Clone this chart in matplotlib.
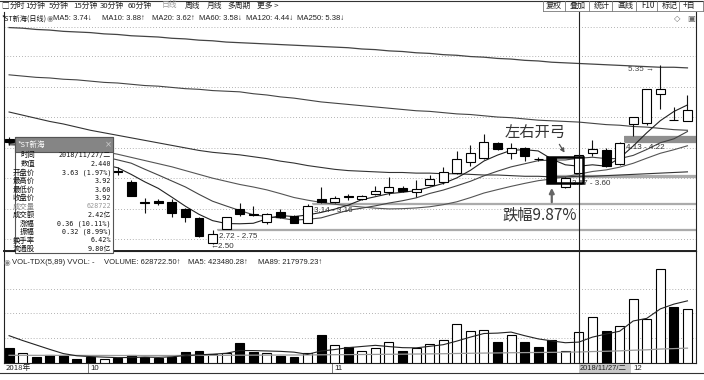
import matplotlib
matplotlib.use("Agg")
import matplotlib.pyplot as plt
from matplotlib.patches import Rectangle

plt.rcParams['font.family'] = ['Noto Sans CJK SC', 'DejaVu Sans']
CJK = ['Noto Sans CJK SC', 'DejaVu Sans']
LAT = ['Liberation Sans', 'DejaVu Sans', 'Noto Sans CJK SC']
MONO = ['DejaVu Sans Mono', 'Noto Sans CJK SC']

# daily candles, 2018-09-20 .. 2018-12-07 (index 42 = 2018/11/27)
opens = [4.17, 4.05, 4.06, 3.95, 3.88, 3.80, 3.76, 3.66, 3.66, 3.49,
         3.17, 3.18, 3.17, 3.06, 2.92, 2.52, 2.75, 3.06, 2.98, 2.85,
         3.01, 2.95, 2.84, 3.22, 3.17, 3.26, 3.22, 3.30, 3.33, 3.39,
         3.33, 3.44, 3.49, 3.63, 3.81, 3.87, 4.11, 3.95, 4.03, 3.86,
         3.87, 3.41, 3.63, 3.95, 4.00, 3.78, 4.41, 4.43, 4.89, 4.48, 4.46]
highs = [4.20, 4.12, 4.08, 3.98, 3.90, 3.83, 3.78, 3.72, 3.72, 3.52,
         3.23, 3.22, 3.22, 3.08, 2.93, 2.72, 2.93, 3.16, 3.11, 2.99,
         3.06, 2.96, 3.14, 3.41, 3.26, 3.30, 3.29, 3.43, 3.57, 3.42,
         3.52, 3.60, 3.73, 3.98, 4.08, 4.25, 4.13, 4.11, 4.05, 3.88,
         3.87, 3.57, 3.92, 4.16, 4.03, 4.13, 4.52, 4.97, 5.35, 4.68, 4.87]
lows = [4.08, 4.00, 3.92, 3.85, 3.78, 3.72, 3.66, 3.64, 3.60, 3.27,
        3.00, 3.13, 2.94, 2.85, 2.62, 2.50, 2.75, 2.95, 2.95, 2.82,
        2.92, 2.84, 2.84, 3.16, 3.16, 3.21, 3.20, 3.28, 3.28, 3.33,
        3.25, 3.42, 3.46, 3.62, 3.74, 3.86, 3.99, 3.85, 3.82, 3.82,
        3.47, 3.40, 3.60, 3.90, 3.73, 3.76, 4.22, 4.40, 4.65, 4.47, 4.46]
closes = [4.12, 4.08, 3.95, 3.88, 3.80, 3.75, 3.68, 3.70, 3.65, 3.27,
          3.16, 3.16, 3.00, 2.93, 2.63, 2.66, 2.93, 2.98, 2.97, 2.98,
          2.93, 2.84, 3.11, 3.17, 3.24, 3.25, 3.27, 3.35, 3.41, 3.35,
          3.38, 3.54, 3.65, 3.85, 3.95, 4.12, 4.01, 4.03, 3.90, 3.85,
          3.47, 3.56, 3.92, 4.01, 3.74, 4.11, 4.52, 4.97, 4.97, 4.47, 4.63]

ma5 = [4.10, 4.08, 4.05, 4.01, 3.966, 3.892, 3.812, 3.762, 3.716, 3.61,
       3.492, 3.388, 3.248, 3.104, 2.976, 2.876, 2.83, 2.826, 2.834, 2.904,
       2.958, 2.94, 2.966, 3.006, 3.058, 3.122, 3.208, 3.256, 3.304, 3.326,
       3.352, 3.406, 3.466, 3.554, 3.674, 3.822, 3.916, 3.992, 4.002, 3.982,
       3.852, 3.762, 3.74, 3.762, 3.74, 3.868, 4.06, 4.27, 4.462, 4.608, 4.712]
ma10 = [4.15, 4.12, 4.09, 4.06, 4.02, 3.99, 3.94, 3.89, 3.84, 3.788,
        3.692, 3.60, 3.505, 3.41, 3.293, 3.184, 3.109, 3.037, 2.969, 2.94,
        2.917, 2.885, 2.896, 2.92, 2.981, 3.04, 3.074, 3.111, 3.155, 3.192,
        3.237, 3.307, 3.361, 3.429, 3.50, 3.587, 3.661, 3.729, 3.778, 3.828,
        3.837, 3.839, 3.866, 3.882, 3.861, 3.86, 3.911, 4.005, 4.112, 4.174, 4.29]
ma20 = [4.08, 4.07, 4.06, 4.05, 4.04, 4.02, 4.00, 3.97, 3.93, 3.88,
        3.83, 3.78, 3.73, 3.67, 3.61, 3.55, 3.50, 3.45, 3.41, 3.364,
        3.305, 3.243, 3.201, 3.165, 3.137, 3.112, 3.092, 3.074, 3.062, 3.066,
        3.077, 3.096, 3.129, 3.175, 3.241, 3.314, 3.368, 3.42, 3.467, 3.51,
        3.537, 3.573, 3.614, 3.656, 3.681, 3.724, 3.786, 3.867, 3.945, 4.001, 4.064]
ma60 = [4.60, 4.55, 4.50, 4.45, 4.41, 4.36, 4.31, 4.27, 4.23, 4.19,
        4.15, 4.11, 4.07, 4.03, 3.99, 3.96, 3.94, 3.92, 3.89, 3.86,
        3.82, 3.79, 3.75, 3.72, 3.69, 3.67, 3.66, 3.65, 3.64, 3.64,
        3.63, 3.63, 3.62, 3.62, 3.61, 3.60, 3.60, 3.59, 3.58, 3.58,
        3.57, 3.57, 3.58, 3.58, 3.59, 3.60, 3.61, 3.62, 3.63, 3.64, 3.65]
ma120 = [5.19, 5.17, 5.15, 5.14, 5.12, 5.11, 5.09, 5.07, 5.06, 5.04,
         5.02, 5.01, 4.99, 4.97, 4.96, 4.94, 4.93, 4.92, 4.89, 4.87,
         4.84, 4.82, 4.79, 4.76, 4.74, 4.72, 4.70, 4.68, 4.66, 4.64,
         4.62, 4.61, 4.59, 4.57, 4.56, 4.54, 4.52, 4.51, 4.49, 4.47,
         4.46, 4.45, 4.44, 4.42, 4.40, 4.39, 4.37, 4.36, 4.34, 4.32, 4.31]
ma250 = [5.94, 5.93, 5.91, 5.90, 5.88, 5.87, 5.86, 5.84, 5.83, 5.81,
         5.80, 5.79, 5.77, 5.76, 5.74, 5.73, 5.71, 5.70, 5.69, 5.68,
         5.67, 5.66, 5.65, 5.64, 5.63, 5.62, 5.60, 5.59, 5.57, 5.56,
         5.54, 5.53, 5.51, 5.50, 5.48, 5.47, 5.45, 5.44, 5.42, 5.41,
         5.39, 5.38, 5.37, 5.36, 5.35, 5.34, 5.33, 5.32, 5.31, 5.31, 5.30]

# volume in thousand shares
volumes = [304, 203, 122, 148, 148, 81, 122, 67, 95, 162,
           122, 95, 122, 223, 243, 176, 189, 406, 217, 203,
           135, 108, 189, 554, 351, 324, 229, 304, 426, 243,
           304, 385, 466, 791, 649, 669, 426, 568, 426, 324,
           466, 243, 629, 933, 635, 750, 1284, 892, 1892, 1121, 1081]
vol_ma5 = [548, 450, 360, 270, 185, 140, 124, 113, 103, 105,
           114, 108, 119, 145, 161, 172, 191, 247, 246, 238,
           230, 214, 170, 238, 267, 305, 329, 352, 327, 305,
           301, 332, 365, 438, 519, 592, 600, 621, 548, 483,
           442, 405, 418, 519, 581, 638, 846, 899, 1091, 1188, 1254]
vol_ma89 = [150, 150, 149, 149, 148, 148, 147, 147, 146, 146,
            146, 146, 146, 147, 148, 149, 150, 152, 153, 154,
            155, 156, 157, 160, 162, 164, 166, 168, 171, 173,
            176, 179, 182, 187, 191, 195, 198, 202, 205, 207,
            210, 212, 218, 226, 232, 240, 253, 261, 277, 286, 295]

# gaps: start index, low, high
gap_start = [15.3, 22.3, 39.7, 45.3]
gap_low = [2.72, 3.14, 3.57, 4.13]
gap_high = [2.75, 3.16, 3.60, 4.22]
gap_label_x = [15.45, 22.45, 41.5, 45.45]

grid_prices = [5.95, 5.49, 5.00, 4.52, 4.03, 3.55, 3.06, 2.58]
vol_grid = [500, 1000, 1500]
month_start = [6, 24, 46]
month_names = ['10', '11', '12']
sel = 42

info_labels = ['时间', '数值', '开盘价', '最高价', '最低价', '收盘价', '成交量', '成交额',
               '涨幅', '振幅', '换手率', '流通股']
info_values = ['2018/11/27/二', '2.440', '3.63 (1.97%)', '3.92', '3.60', '3.92', '628722',
               '2.42亿', '0.36 (10.11%)', '0.32 (8.99%)', '6.42%', '9.80亿']

n = len(closes)
idx = list(range(n))
W, H = 704, 380
fig = plt.figure(figsize=(W / 100, H / 100), dpi=100)


def box(x0, y0, x1, y1):
    return [x0 / W, 1 - y1 / H, (x1 - x0) / W, (y1 - y0) / H]


ax = fig.add_axes(box(3.5, 12, 696, 251))
axv = fig.add_axes(box(3.5, 251, 696, 362.7))
ov = fig.add_axes([0, 0, 1, 1], zorder=10)
ov.set_xlim(0, W)
ov.set_ylim(H, 0)
ov.axis('off')

for a in (ax, axv):
    a.set_xlim(-0.41, 50.63)
    a.set_xticks([])
    a.set_yticks([])
    for s in a.spines.values():
        s.set_color('#222')
        s.set_linewidth(0.8)
ax.spines['bottom'].set_linewidth(1.4)
ax.spines['top'].set_visible(False)
ax.set_ylim(2.394, 6.187)
axv.set_ylim(0, 2265)

for p in grid_prices:
    ax.axhline(p, color='#9a9a9a', lw=0.6, ls=(0, (1, 2.5)), zorder=0)
for v in vol_grid:
    axv.axhline(v, color='#9a9a9a', lw=0.6, ls=(0, (1, 2.5)), zorder=0)

# gap bands
for s, lo, hi, lx in zip(gap_start, gap_low, gap_high, gap_label_x):
    c = '#8f8f8f' if hi - lo > 0.05 else '#ababab'
    ax.fill_between([s, 50.63], lo, hi, color=c, lw=0, zorder=1)
    ax.hlines([lo, hi], s, 50.63, color=c, lw=0.9, zorder=1)
    ax.text(lx, lo - 0.1, f'{lo:.2f} - {hi:.2f}', fontsize=5.8, color='#333',
            va='center', family=LAT, zorder=6)

# moving averages
ax.plot(idx, ma250, color='#444', lw=0.9, zorder=2)
ax.plot(idx, ma120, color='#444', lw=0.8, zorder=2)
ax.plot(idx, ma60, color='#333', lw=0.8, zorder=2)
ax.plot(idx, ma20, color='#555', lw=0.8, zorder=2)
ax.plot(idx, ma10, color='#444', lw=0.8, zorder=2)
ax.plot(idx, ma5, color='#222', lw=0.8, zorder=2)

# candles
fill = ['white' if c > o else 'black' for o, c in zip(opens, closes)]
body_lo = [min(o, c) for o, c in zip(opens, closes)]
body_h = [max(abs(c - o), 0.006) for o, c in zip(opens, closes)]
ax.vlines(idx, lows, highs, color='#111', lw=0.8, zorder=3)
ax.bar(idx, body_h, bottom=body_lo, width=0.66, color=fill, edgecolor='black',
       linewidth=0.8, zorder=4)

# volume
axv.bar(idx, volumes, width=0.66, color=fill, edgecolor='black', linewidth=0.8, zorder=3)
axv.plot(idx, vol_ma89, color='#9a9a9a', lw=0.9, zorder=4)
axv.plot(idx, vol_ma5, color='#222', lw=0.8, zorder=4)

# crosshair
ax.axvline(sel, color='#222', lw=0.8, zorder=5)
axv.axvline(sel, color='#222', lw=0.8, zorder=5)

# pattern annotations
ax.add_patch(Rectangle((39.65, lows[40]), 2.65, opens[40] + 0.01 - lows[40], fill=False,
                       edgecolor='black', lw=1.8, zorder=6))
ax.text(38.76, 4.275, '左右开弓', fontsize=11, ha='center', va='center', color='#333',
        family=CJK, zorder=6)
ax.annotate('', xy=(41.05, 3.917), xytext=(40.45, 4.124),
            arrowprops=dict(arrowstyle='-|>', color='#555', lw=0.9, mutation_scale=6), zorder=6)
ax.text(39.13, 2.973, '跌幅9.87%', fontsize=11, ha='center', va='center', color='#333',
        family=CJK, zorder=6)
ax.annotate('', xy=(40, closes[40] - 0.03), xytext=(40, 3.124),
            arrowprops=dict(arrowstyle='-|>', color='#666', lw=1.6, mutation_scale=7), zorder=6)
ax.text(15 - 0.15, lows[15] - 0.04, f'←{lows[15]:.2f}', fontsize=5.8, color='#333',
        va='center', family=LAT, zorder=6)
ax.text(48 - 0.45, highs[48] - 0.07, f'{highs[48]:.2f} →', fontsize=5.8, color='#444',
        ha='right', va='center', family=LAT, zorder=6)

# ---- interface chrome (pixel coordinates) ----
ov.plot([0, W], [0.5, 0.5], color='#333', lw=0.8)
tabs = [('□', 1), ('分时', 10), ('1分钟', 25), ('5分钟', 49), ('15分钟', 73), ('30分钟', 100),
        ('60分钟', 128), ('日线', 162), ('周线', 185), ('月线', 207), ('多周期', 227), ('更多 >', 257)]
for t, x in tabs:
    ov.text(x, 5.5, t, fontsize=5.6, va='center', family=CJK,
            color='#999' if t == '日线' else '#222')
buttons = [('复权', 546), ('叠加', 570), ('统计', 594), ('画线', 617), ('F10', 641), ('标记', 662), ('+自', 683)]
for t, x in buttons:
    ov.text(x, 5.5, t, fontsize=5.8, va='center', family=CJK, color='#222')
for x in [543, 565, 589, 612, 636, 657, 679, 703]:
    ov.plot([x, x], [0.5, 11], color='#777', lw=0.6)
ov.plot([543, W], [11, 11], color='#777', lw=0.6)

ov.text(1.5, 19, '*ST新海(日线)', fontsize=5.1, va='center', family=CJK, color='#111')
ov.text(46.5, 19, '◉', fontsize=5.5, va='center', family=['DejaVu Sans'], color='#888')
legend = [('MA5: 3.74↓', 53), ('MA10: 3.88↑', 102), ('MA20: 3.62↑', 152), ('MA60: 3.58↓', 199),
          ('MA120: 4.44↓', 246), ('MA250: 5.38↓', 297)]
for t, x in legend:
    ov.text(x, 19, t, fontsize=5.5, va='center', family=LAT, color='#222')
ov.text(674, 19, '◇', fontsize=6, va='center', family=['DejaVu Sans'], color='#666')
ov.text(687, 19, '▣', fontsize=6, va='center', family=['DejaVu Sans'], color='#666')

ov.text(4, 262, '◉', fontsize=5.5, va='center', family=['DejaVu Sans'], color='#888')
vol_items = [('VOL-TDX(5,89) VVOL: -', 12), ('VOLUME: 628722.50↑', 104),
             ('MA5: 423480.28↑', 188), ('MA89: 217979.23↑', 258)]
for t, x in vol_items:
    ov.text(x, 262, t, fontsize=5.5, va='center', family=LAT, color='#222')

# date axis row
ov.plot([0, W], [373, 373], color='#333', lw=0.8)
ov.text(6, 368, '2018年', fontsize=5.6, va='center', family=CJK, color='#222')
for m, name in zip(month_start, month_names):
    axv.plot([m - 0.2, m - 0.2], [0.0, -0.095], transform=axv.get_xaxis_transform(),
             color='#666', lw=0.6, clip_on=False)
    axv.text(m, -0.05, name, transform=axv.get_xaxis_transform(), fontsize=5.6,
             va='center', family=LAT, color='#222')
ov.add_patch(Rectangle((579, 363.5), 52, 9, facecolor='#c8c8c8', edgecolor='none'))
ov.text(580, 368, '2018/11/27/二', fontsize=5.4, va='center', family=LAT, color='#222')

# info popup
ov.add_patch(Rectangle((15, 137), 98, 116, facecolor='white', edgecolor='#555', lw=0.8))
ov.add_patch(Rectangle((15, 137), 98, 14.5, facecolor='#858585', edgecolor='#555', lw=0.8))
ov.text(18, 144.5, '*ST新海', fontsize=5.4, va='center', family=CJK, color='white')
ov.text(108, 144.5, '×', fontsize=6, ha='center', va='center', family=['DejaVu Sans'], color='#ccc')
for k, (lab, val) in enumerate(zip(info_labels, info_values)):
    y = 155.5 + 8.5 * k
    gray = lab == '成交量'
    ov.text(35, y, lab, fontsize=5.3, ha='right', va='center', family=CJK,
            color='#888' if gray else '#111')
    ov.text(111, y, val, fontsize=4.9, ha='right', va='center', family=MONO,
            color='#999' if gray else '#111')

fig.savefig('out.png', dpi=100)
